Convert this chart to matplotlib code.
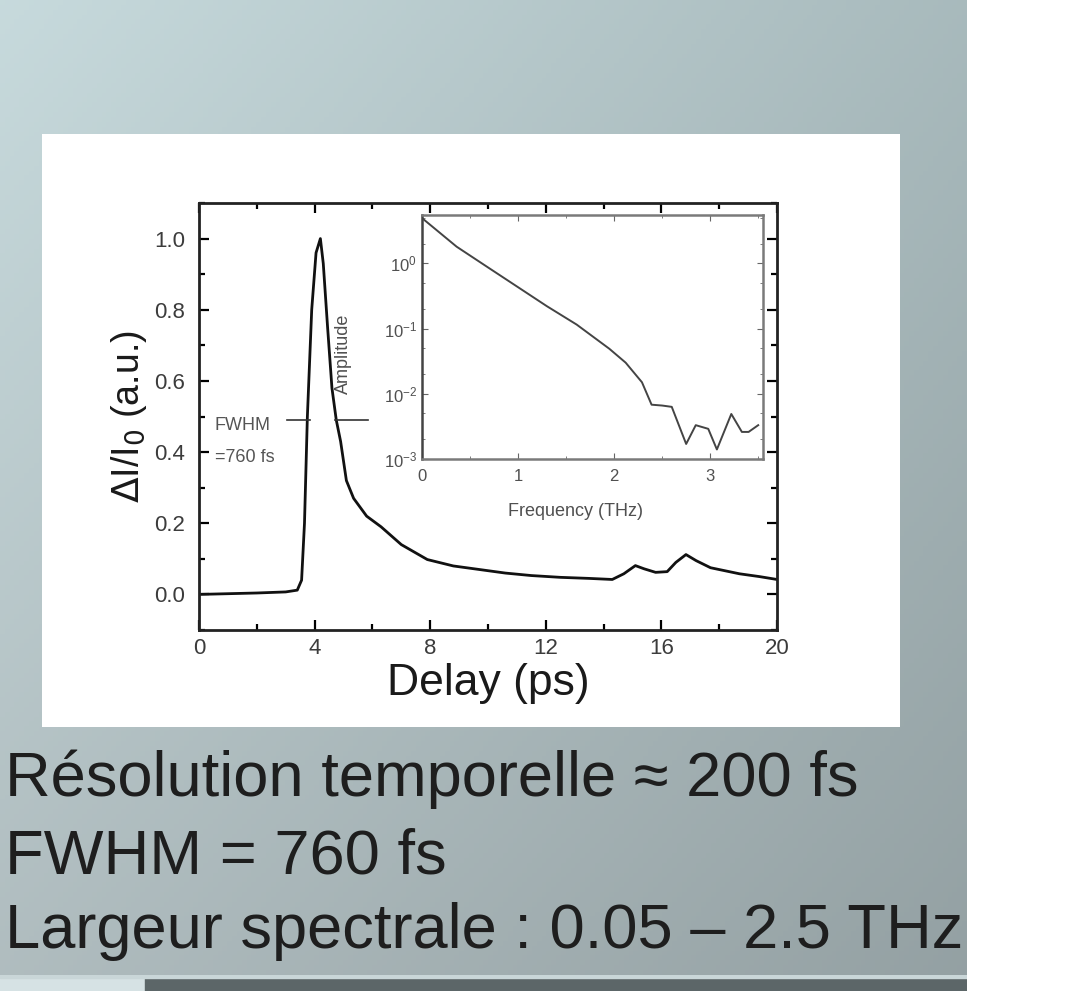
import numpy as np
import matplotlib
matplotlib.use("Agg")
import matplotlib.pyplot as plt
from matplotlib.ticker import MultipleLocator, LogLocator, FixedLocator

plt.rcParams["font.family"] = ["Liberation Sans", "DejaVu Sans"]

# main trace: normalised transmission change vs delay
delay = [0, 1, 2, 3, 3.4, 3.55, 3.65, 3.75, 3.9, 4.05, 4.2, 4.3, 4.45, 4.6,
         4.75, 4.9, 5.1, 5.35, 5.8, 6.3, 7.0, 7.9, 8.8, 9.7, 10.6, 11.5,
         12.5, 13.5, 14.3, 14.7, 15.1, 15.4, 15.8, 16.2, 16.5, 16.85, 17.2,
         17.7, 18.7, 19.4, 20]
signal = [0.0, 0.002, 0.004, 0.007, 0.012, 0.04, 0.2, 0.5, 0.8, 0.96, 1.0,
          0.93, 0.75, 0.58, 0.49, 0.43, 0.32, 0.27, 0.22, 0.19, 0.14, 0.098,
          0.08, 0.07, 0.06, 0.053, 0.048, 0.045, 0.042, 0.058, 0.081, 0.072,
          0.062, 0.064, 0.09, 0.112, 0.095, 0.075, 0.058, 0.05, 0.042]

# inset: spectrum amplitude
freq = [0.01, 0.36, 0.70, 1.0, 1.30, 1.61, 1.95, 2.12, 2.29, 2.39, 2.50,
        2.60, 2.75, 2.85, 2.98, 3.07, 3.22, 3.33, 3.40, 3.50]
amplitude = [4.8, 1.8, 0.84, 0.43, 0.22, 0.115, 0.049, 0.03, 0.015, 0.0068,
             0.0066, 0.0063, 0.0017, 0.0033, 0.0029, 0.0014, 0.0049, 0.0026,
             0.0026, 0.0033]

fwhm_edges = (3.84, 4.71)
fwhm_level = 0.49

notes = ["Résolution temporelle \u2248 200 fs",
         "FWHM = 760 fs",
         "Largeur spectrale : 0.05 \u2013 2.5 THz"]

fig = plt.figure(figsize=(10.82, 9.91), dpi=100)
fig.patch.set_facecolor("white")

# slide background gradient
bg = fig.add_axes([0, 16 / 991, 967 / 1082, 975 / 991])
bg.set_axis_off()
gx = np.linspace(0, 1, 200)[None, :, None]
gy = np.linspace(0, 1, 200)[:, None, None]
tl = np.array([0.78, 0.855, 0.865])
tr = np.array([0.66, 0.73, 0.74])
bl = np.array([0.69, 0.74, 0.75])
br = np.array([0.58, 0.63, 0.64])
img = (1 - gy) * ((1 - gx) * tl + gx * tr) + gy * ((1 - gx) * bl + gx * br)
bg.imshow(img, aspect="auto", extent=[0, 1, 0, 1], origin="upper")
bg.set_xlim(0, 1)
bg.set_ylim(0, 1)

# bottom dark strip
strip = fig.add_axes([0, 0, 967 / 1082, 16 / 991])
strip.set_axis_off()
strip.axvspan(0, 0.15, color="#d6e2e4")
strip.axvspan(0.15, 1, color="#5c6668")
strip.axhspan(0.8, 1, color="#c9d6d8")
strip.set_xlim(0, 1)
strip.set_ylim(0, 1)

# white panel holding the figure
panel = fig.add_axes([42 / 1082, 1 - 727 / 991, 858 / 1082, 593 / 991])
panel.set_facecolor("white")
panel.set_xticks([])
panel.set_yticks([])
for s in panel.spines.values():
    s.set_visible(False)

# main plot
ax = fig.add_axes([199 / 1082, 1 - 630 / 991, 578 / 1082, 427 / 991])
ax.plot(delay, signal, color="#111111", lw=2.0)
ax.set_xlim(0, 20)
ax.set_ylim(-0.1, 1.1)
ax.xaxis.set_major_locator(MultipleLocator(4))
ax.xaxis.set_minor_locator(MultipleLocator(2))
ax.yaxis.set_major_locator(FixedLocator([0, 0.2, 0.4, 0.6, 0.8, 1.0]))
ax.yaxis.set_minor_locator(MultipleLocator(0.1))
ax.yaxis.set_major_formatter(plt.FuncFormatter(lambda v, p: f"{v:.1f}"))
ax.tick_params(which="both", direction="in", top=True, right=True,
               labelsize=16, labelcolor="#3c3c3c", width=1.6)
ax.tick_params(axis="y", pad=10)
ax.tick_params(axis="x", pad=6)
ax.tick_params(which="major", length=7)
ax.tick_params(which="minor", length=4)
for s in ax.spines.values():
    s.set_linewidth(2)
    s.set_color("#222222")
ax.set_xlabel("Delay (ps)", fontsize=32, color="#1a1a1a", labelpad=3)
ax.set_ylabel(r"$\Delta$I/I$_0$ (a.u.)", fontsize=27, color="#1a1a1a",
              labelpad=4)

# FWHM marker
ax.plot([3.05, fwhm_edges[0]], [fwhm_level, fwhm_level], color="#333333", lw=1.2)
ax.plot([fwhm_edges[1], 5.85], [fwhm_level, fwhm_level], color="#333333", lw=1.2)
ax.text(0.55, 0.475, "FWHM", fontsize=13, color="#555555", va="center")
ax.text(0.55, 0.385, "=760 fs", fontsize=13, color="#555555", va="center")

# inset spectrum
ins = fig.add_axes([422 / 1082, 1 - 459 / 991, 341 / 1082, 244 / 991])
ins.semilogy(freq, amplitude, color="#444444", lw=1.4)
ins.set_xlim(0, 3.55)
ins.set_ylim(1e-3, 5.5)
ins.xaxis.set_major_locator(MultipleLocator(1))
ins.xaxis.set_minor_locator(MultipleLocator(0.5))
ins.yaxis.set_major_locator(FixedLocator([1e-3, 1e-2, 1e-1, 1e0]))
ins.yaxis.set_minor_locator(LogLocator(base=10, subs=(2, 5)))
ins.yaxis.set_minor_formatter(plt.NullFormatter())
ins.tick_params(which="both", direction="in", top=True, right=True,
                labelsize=12, labelcolor="#505050", color="#666666")
ins.tick_params(axis="x", pad=7)
ins.tick_params(which="major", length=4)
ins.tick_params(which="minor", length=2)
for s in ins.spines.values():
    s.set_linewidth(1.8)
    s.set_color("#7a7a7a")
ins.spines["left"].set_color("#444444")
ins.set_xlabel("Frequency (THz)", fontsize=13, color="#505050")
ins.xaxis.set_label_coords(0.45, -0.18)
ins.set_ylabel("Amplitude", fontsize=13, color="#505050")
ins.yaxis.set_label_coords(-0.205, 0.43)

# slide notes
baselines = [796, 873, 948]
for line, yb in zip(notes, baselines):
    fig.text(5 / 1082, 1 - yb / 991, line, fontsize=45.5,
             color="#1e1e1e", va="baseline", ha="left")

fig.savefig("out.png", dpi=100)
